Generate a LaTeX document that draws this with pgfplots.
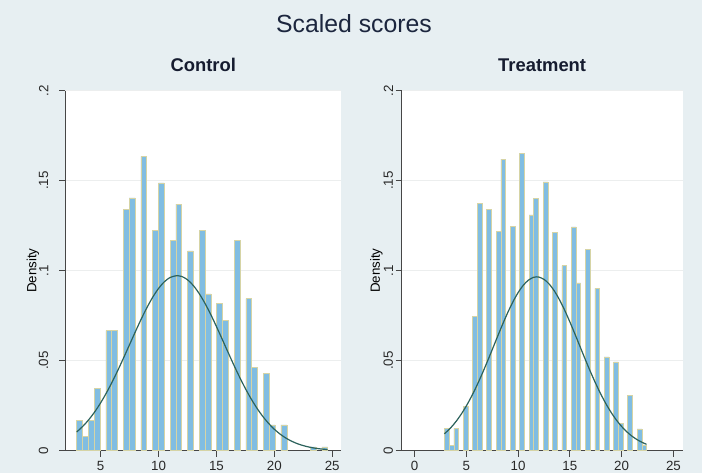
\documentclass[border=0pt]{standalone}
\usepackage{fontspec}
\setmainfont{Liberation Sans}
\usepackage{pgfplots}
\pgfplotsset{compat=1.18}
\definecolor{bgc}{RGB}{231,239,242}
\definecolor{titlec}{RGB}{28,38,62}
\definecolor{subc}{RGB}{22,28,48}
\definecolor{barc}{RGB}{128,189,226}
\definecolor{baredge}{RGB}{214,212,165}
\definecolor{curvec}{RGB}{44,98,92}
\definecolor{axc}{RGB}{70,70,70}
\definecolor{gridc}{RGB}{236,238,238}
\definecolor{tickc}{RGB}{40,40,40}

\pgfplotsset{
  stpanel/.style={
    scale only axis,
    anchor=south west,
    height=270pt,
    ymin=0, ymax=0.2,
    axis x line*=bottom, axis y line*=left,
    axis line style={color=axc, line width=0.6pt},
    axis background/.style={fill=white},
    ytick={0,0.05,0.1,0.15,0.2},
    yticklabels={0,.05,.1,.15,.2},
    ymajorgrids, grid style={color=gridc, line width=0.6pt},
    tick align=outside,
    major tick length=4.5pt,
    tick style={color=axc, line width=0.6pt},
    ticklabel style={font=\fontsize{10}{12}\selectfont, text=tickc},
    yticklabel style={rotate=90, anchor=south},
    ylabel={Density},
    ylabel style={font=\fontsize{10.3}{12}\selectfont, text=tickc},
  },
  bars/.style={ybar, bar width=#1, bar shift=0pt, fill=barc, draw=baredge, line width=0.4pt},
  normc/.style={smooth, color=curvec, line width=0.9pt, no markers},
}

\begin{document}
\begin{tikzpicture}
\fill[bgc] (0,0) rectangle (526.5pt,354.75pt);
\node[anchor=base, font=\fontsize{18.6}{22}\selectfont, text=titlec] at (265.5pt,330.5pt) {Scaled scores};
\node[anchor=base, font=\bfseries\fontsize{13.8}{16}\selectfont, text=subc] at (152.4pt,301pt) {Control};
\node[anchor=base, font=\bfseries\fontsize{13.8}{16}\selectfont, text=subc] at (406.6pt,301pt) {Treatment};

% Control
\begin{axis}[stpanel, at={(48.75pt,16.7pt)}, width=207.2pt,
  xmin=1.92, xmax=25.78,
  xtick={5,10,15,20,25}, xticklabels={5,10,15,20,25},
  yticklabel shift=4.5pt,
  every axis y label/.style={at={(rel axis cs:0,0.5)}, xshift=-24pt, rotate=90, anchor=center}]
\addplot[bars=0.504] coordinates {
(3.182,0.0167) (3.686,0.0078) (4.190,0.0167) (4.694,0.0346)
(5.702,0.0667) (6.206,0.0667) (7.214,0.1340) (7.718,0.1405)
(8.726,0.1635) (9.734,0.1225) (10.238,0.1488) (11.246,0.1170)
(11.750,0.1370) (12.758,0.1110) (13.766,0.1225) (14.270,0.0872)
(15.278,0.0817) (15.782,0.0726) (16.790,0.1170) (17.798,0.0845)
(18.302,0.0463) (19.310,0.0431) (19.814,0.0143) (20.822,0.0143)
(23.342,0.0022) (24.350,0.0022)
};
\addplot[normc] coordinates {
(2.93,0.01040) (3.5,0.01383) (4,0.01746) (4.5,0.02172) (5,0.02663)
(5.5,0.03217) (6,0.03828) (6.5,0.04489) (7,0.05186) (7.5,0.05901)
(8,0.06617) (8.5,0.07311) (9,0.07957) (9.5,0.08534) (10,0.09017)
(10.5,0.09386) (11,0.09626) (11.6,0.09730) (12,0.09684) (12.5,0.09499)
(13,0.09179) (13.5,0.08740) (14,0.08199) (14.5,0.07577) (15,0.06900)
(15.5,0.06189) (16,0.05471) (16.5,0.04764) (17,0.04088) (17.5,0.03455)
(18,0.02877) (18.5,0.02361) (19,0.01909) (19.5,0.01521) (20,0.01193)
(20.5,0.00922) (21,0.00703) (21.5,0.00527) (22,0.00390) (22.5,0.00284)
(23,0.00204) (23.5,0.00144) (24,0.00100) (24.6,0.00064)
};
\end{axis}

% Treatment
\begin{axis}[stpanel, at={(301.3pt,16.7pt)}, width=210.75pt,
  xmin=-1.24, xmax=25.9,
  xtick={0,5,10,15,20,25}, xticklabels={0,5,10,15,20,25},
  yticklabel shift=-1.5pt,
  every axis y label/.style={at={(rel axis cs:0,0.5)}, xshift=-19pt, rotate=90, anchor=center}]
\addplot[bars=0.454] coordinates {
(3.107,0.0124) (3.561,0.0028) (4.015,0.0124) (4.923,0.0248)
(5.831,0.0746) (6.285,0.1374) (7.193,0.1339) (8.101,0.1217)
(8.555,0.1620) (9.463,0.1246) (10.371,0.1650) (11.279,0.1310)
(11.733,0.1400) (12.641,0.1494) (13.549,0.1215) (14.457,0.1028)
(15.365,0.1244) (15.819,0.0933) (16.727,0.1120) (17.635,0.0902)
(18.543,0.0522) (19.451,0.0494) (19.905,0.0150) (20.813,0.0307)
(21.721,0.0122) (22.175,0.0032)
};
\addplot[normc] coordinates {
(2.88,0.00937) (3.5,0.01282) (4,0.01623) (4.5,0.02026) (5,0.02490)
(5.5,0.03018) (6,0.03603) (6.5,0.04240) (7,0.04916) (7.5,0.05617)
(8,0.06326) (8.5,0.07020) (9,0.07677) (9.5,0.08272) (10,0.08785)
(10.5,0.09193) (11,0.09480) (11.5,0.09635) (11.8,0.09660) (12,0.09649)
(12.5,0.09522) (13,0.09261) (13.5,0.08876) (14,0.08382) (14.5,0.07801)
(15,0.07155) (15.5,0.06466) (16,0.05759) (16.5,0.05055) (17,0.04372)
(17.5,0.03727) (18,0.03130) (18.5,0.02591) (19,0.02114) (19.5,0.01698)
(20,0.01346) (20.5,0.01050) (21,0.00808) (21.5,0.00612) (22,0.00458)
(22.4,0.00359)
};
\end{axis}
\end{tikzpicture}
\end{document}
